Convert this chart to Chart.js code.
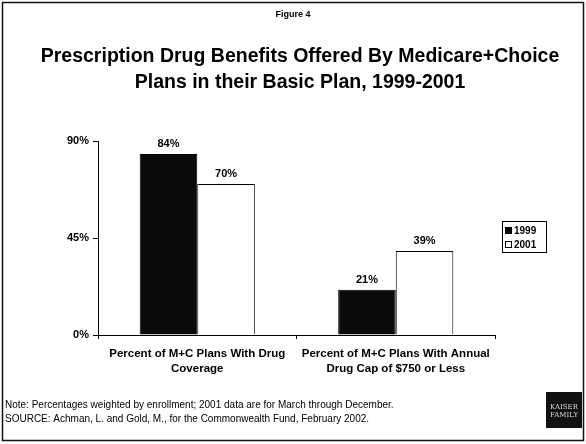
<!DOCTYPE html>
<html lang="en">
<head>
    <meta charset="UTF-8">
    <title>Prescription Drug Benefits</title>
    <script src="https://cdn.jsdelivr.net/npm/chart.js"></script>
    <style>
        html, body { margin: 0; padding: 0; background: #fff; }
        #wrap { width: 586px; height: 444px; position: relative; }
    </style>
</head>
<body>
    <div id="wrap"><canvas id="drugChart" width="586" height="444"></canvas></div>
    <script>
        const categories = [
            ['Percent of M+C Plans With Drug', 'Coverage'],
            ['Percent of M+C Plans With Annual', 'Drug Cap of $750 or Less']
        ];
        const years = ['1999', '2001'];
        const values1999 = [84, 21];
        const values2001 = [70, 39];
        const yTicks = [0, 45, 90];

        const titleLines = ['Prescription Drug Benefits Offered By Medicare+Choice', 'Plans in their Basic Plan, 1999-2001'];
        const noteLines = [
            'Note: Percentages weighted by enrollment; 2001 data are for March through December.',
            'SOURCE: Achman, L. and Gold, M., for the Commonwealth Fund, February 2002.'
        ];

        const FONT = 'Arial, "Liberation Sans", sans-serif';

        // frame, titles, notes, logo, legend, value labels
        const decor = {
            id: 'decor',
            afterDraw(chart) {
                const ctx = chart.ctx;
                ctx.save();
                ctx.strokeStyle = '#111';
                ctx.lineWidth = 1.5;
                ctx.strokeRect(2.5, 2.5, 581, 438);

                ctx.fillStyle = '#000';
                ctx.textAlign = 'center';
                ctx.textBaseline = 'middle';
                ctx.font = 'bold 9px ' + FONT;
                ctx.fillText('Figure 4', 293, 15);

                ctx.font = 'bold 19.5px ' + FONT;
                ctx.fillText(titleLines[0], 300, 57);
                ctx.fillText(titleLines[1], 300, 83);

                // value labels
                ctx.font = 'bold 11px ' + FONT;
                chart.data.datasets.forEach((ds, i) => {
                    chart.getDatasetMeta(i).data.forEach((bar, j) => {
                        ctx.fillText(ds.data[j] + '%', bar.x, bar.y - 10);
                    });
                });

                // legend
                ctx.lineWidth = 1;
                ctx.strokeStyle = '#000';
                ctx.strokeRect(502.5, 221.5, 44, 31);
                ctx.textAlign = 'left';
                ctx.font = 'bold 10px ' + FONT;
                chart.data.datasets.forEach((ds, i) => {
                    const y = 230.5 + i * 14;
                    ctx.fillStyle = ds.backgroundColor;
                    ctx.fillRect(505, y - 3.5, 7, 7);
                    ctx.strokeRect(505.5, y - 3, 6, 6);
                    ctx.fillStyle = '#000';
                    ctx.fillText(ds.label, 514, y + 0.5);
                });

                // notes
                ctx.font = '10px ' + FONT;
                ctx.fillText(noteLines[0], 5, 405);
                ctx.fillText(noteLines[1], 5, 419);

                // logo
                ctx.fillStyle = '#111';
                ctx.fillRect(546, 392, 36, 36);
                ctx.fillStyle = '#ddd';
                ctx.textAlign = 'center';
                ctx.font = '7px "DejaVu Serif", serif';
                ctx.fillText('KAISER', 564, 407);
                ctx.fillText('FAMILY', 564, 415);
                ctx.restore();
            }
        };

        new Chart(document.getElementById('drugChart'), {
            type: 'bar',
            data: {
                labels: categories,
                datasets: [
                    { label: years[0], data: values1999, backgroundColor: '#0a0a0a', borderColor: '#000', borderWidth: 1 },
                    { label: years[1], data: values2001, backgroundColor: '#ffffff', borderColor: '#000', borderWidth: 1 }
                ]
            },
            options: {
                responsive: false,
                animation: false,
                layout: { padding: { top: 141, right: 91, bottom: 0, left: 0 } },
                categoryPercentage: 0.58,
                barPercentage: 1,
                plugins: {
                    legend: { display: false },
                    tooltip: { enabled: false }
                },
                scales: {
                    x: {
                        grid: { drawOnChartArea: false, color: '#000', tickLength: 4, offset: true },
                        border: { color: '#000', width: 1 },
                        ticks: {
                            color: '#000',
                            padding: 8,
                            maxRotation: 0,
                            font: { family: FONT, size: 11.5, weight: 'bold', lineHeight: 1.25 }
                        },
                        afterFit(scale) { scale.height = 109; }
                    },
                    y: {
                        min: 0,
                        max: 90,
                        afterBuildTicks(scale) { scale.ticks = yTicks.map(v => ({ value: v })); },
                        grid: { drawOnChartArea: false, color: '#000', tickLength: 5 },
                        border: { color: '#000', width: 1 },
                        ticks: {
                            color: '#000',
                            padding: 4,
                            font: { family: FONT, size: 11, weight: 'bold' },
                            callback: v => v + '%'
                        },
                        afterFit(scale) { scale.width = 98; }
                    }
                }
            },
            plugins: [decor]
        });
    </script>
</body>
</html>
